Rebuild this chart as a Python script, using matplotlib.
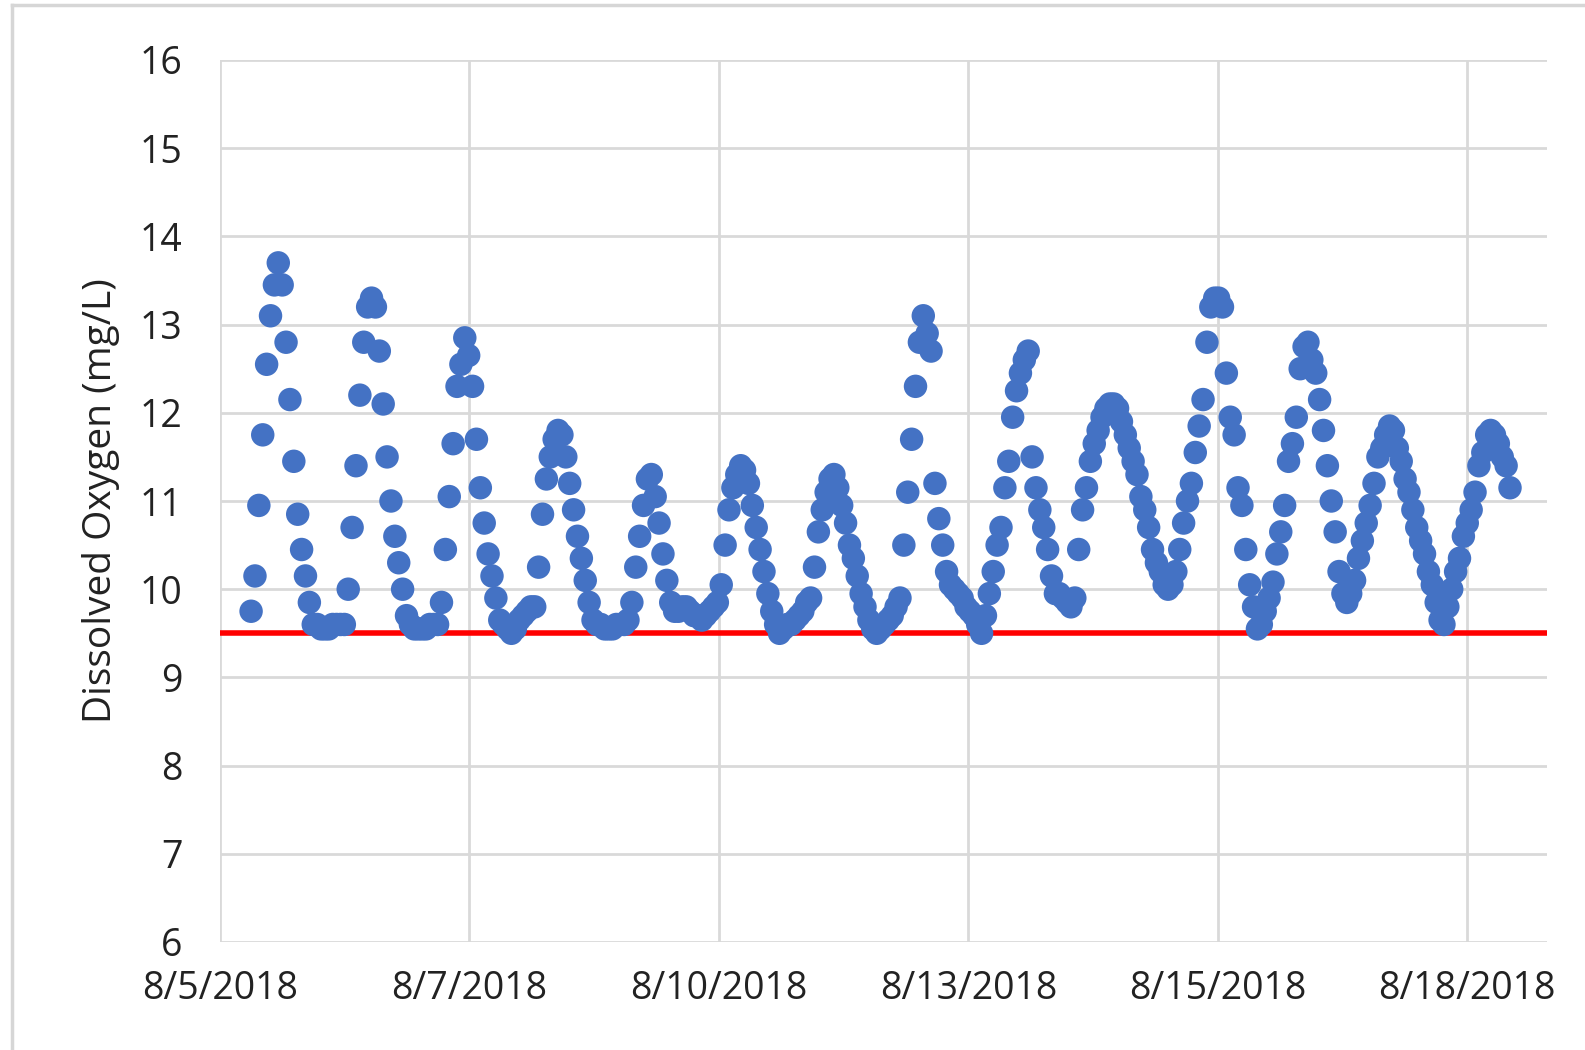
import numpy as np
import matplotlib
matplotlib.use('Agg')
import matplotlib.pyplot as plt
from matplotlib.lines import Line2D

plt.rcParams['font.family'] = ['Open Sans', 'DejaVu Sans']

# hourly dissolved oxygen readings (mg/L), one list per day
# first day starts at 08:00, last day stops at 20:00
aug05 = [9.75, 10.15, 10.95, 11.75, 12.55, 13.1, 13.45, 13.7, 13.45, 12.8, 12.15, 11.45,
         10.85, 10.45, 10.15, 9.85]
aug06 = [9.6, 9.6, 9.55, 9.55, 9.55, 9.6, 9.6, 9.6, 9.6, 10.0, 10.7, 11.4,
         12.2, 12.8, 13.2, 13.3, 13.2, 12.7, 12.1, 11.5, 11.0, 10.6, 10.3, 10.0]
aug07 = [9.7, 9.6, 9.55, 9.55, 9.55, 9.55, 9.6, 9.6, 9.6, 9.85, 10.45, 11.05,
         11.65, 12.3, 12.55, 12.85, 12.65, 12.3, 11.7, 11.15, 10.75, 10.4, 10.15, 9.9]
aug08 = [9.65, 9.6, 9.55, 9.5, 9.55, 9.65, 9.7, 9.75, 9.8, 9.8, 10.25, 10.85,
         11.25, 11.5, 11.7, 11.8, 11.75, 11.5, 11.2, 10.9, 10.6, 10.35, 10.1, 9.85]
aug09 = [9.65, 9.6, 9.6, 9.55, 9.55, 9.55, 9.6, 9.6, 9.6, 9.65, 9.85, 10.25,
         10.6, 10.95, 11.25, 11.3, 11.05, 10.75, 10.4, 10.1, 9.85, 9.75, 9.75, 9.8]
aug10 = [9.8, 9.75, 9.7, 9.7, 9.65, 9.7, 9.75, 9.8, 9.85, 10.05, 10.5, 10.9,
         11.15, 11.3, 11.4, 11.35, 11.2, 10.95, 10.7, 10.45, 10.2, 9.95, 9.75, 9.6]
aug11 = [9.5, 9.55, 9.6, 9.6, 9.65, 9.7, 9.75, 9.85, 9.9, 10.25, 10.65, 10.9,
         11.1, 11.25, 11.3, 11.15, 10.95, 10.75, 10.5, 10.35, 10.15, 9.95, 9.8, 9.65]
aug12 = [9.55, 9.5, 9.55, 9.6, 9.65, 9.7, 9.8, 9.9, 10.5, 11.1, 11.7, 12.3,
         12.8, 13.1, 12.9, 12.7, 11.2, 10.8, 10.5, 10.2, 10.05, 10.0, 9.95, 9.9]
aug13 = [9.8, 9.75, 9.7, 9.6, 9.5, 9.7, 9.95, 10.2, 10.5, 10.7, 11.15, 11.45,
         11.95, 12.25, 12.45, 12.6, 12.7, 11.5, 11.15, 10.9, 10.7, 10.45, 10.15, 9.95]
aug14 = [9.95, 9.9, 9.85, 9.8, 9.9, 10.45, 10.9, 11.15, 11.45, 11.65, 11.8, 11.95,
         12.05, 12.1, 12.1, 12.05, 11.9, 11.75, 11.6, 11.45, 11.3, 11.05, 10.9, 10.7]
aug15 = [10.45, 10.3, 10.2, 10.05, 10.0, 10.05, 10.2, 10.45, 10.75, 11.0, 11.2, 11.55,
         11.85, 12.15, 12.8, 13.2, 13.3, 13.3, 13.2, 12.45, 11.95, 11.75, 11.15, 10.95]
aug16 = [10.45, 10.05, 9.8, 9.55, 9.6, 9.75, 9.9, 10.08, 10.4, 10.65, 10.95, 11.45,
         11.65, 11.95, 12.5, 12.75, 12.8, 12.6, 12.45, 12.15, 11.8, 11.4, 11.0, 10.65]
aug17 = [10.2, 9.95, 9.85, 9.95, 10.1, 10.35, 10.55, 10.75, 10.95, 11.2, 11.5, 11.6,
         11.75, 11.85, 11.8, 11.6, 11.45, 11.25, 11.1, 10.9, 10.7, 10.55, 10.4, 10.2]
aug18 = [10.05, 9.85, 9.65, 9.6, 9.8, 10.0, 10.2, 10.35, 10.6, 10.75, 10.9, 11.1,
         11.4, 11.55, 11.75, 11.8, 11.75, 11.65, 11.5, 11.4, 11.15]

days = [aug05, aug06, aug07, aug08, aug09, aug10, aug11, aug12, aug13,
        aug14, aug15, aug16, aug17, aug18]
first_hour = 8
standard = 9.5

tick_pos = [0, 2.675, 5.35, 8.025, 10.7, 13.375]
tick_labels = ['8/5/2018', '8/7/2018', '8/10/2018', '8/13/2018', '8/15/2018', '8/18/2018']

# time in days since 8/5 00:00
t = []
do = []
for i, vals in enumerate(days):
    h0 = first_hour if i == 0 else 0
    for k, v in enumerate(vals):
        t.append(i + (h0 + k) / 24)
        do.append(v)

fig = plt.figure(figsize=(15.85, 10.5), dpi=100)
ax = fig.add_axes([220 / 1585, 1 - 942 / 1050, 1327 / 1585, 882 / 1050])

ax.axhline(standard, color='#ff0000', lw=4, zorder=2)
ax.scatter(t, do, s=285, color='#4472c4', edgecolors='none', zorder=3)

ax.set_xlim(0, 14.23)
ax.set_ylim(6, 16)
ax.set_yticks(range(6, 17))
ax.set_xticks(tick_pos)
ax.set_xticklabels(tick_labels)
ax.grid(color='#d9d9d9', lw=2)
ax.set_axisbelow(True)
for s in ax.spines.values():
    s.set_visible(False)
ax.tick_params(axis='both', length=0, labelsize=27, colors='#222222')
ax.tick_params(axis='y', pad=27)
ax.tick_params(axis='x', pad=20)
ax.set_ylabel('Dissolved Oxygen (mg/L)', fontsize=28, labelpad=14, color='#222222')

# light frame of the chart area
fig.add_artist(Line2D([12 / 1585, 12 / 1585], [0, 1 - 5 / 1050], transform=fig.transFigure,
                      color='#d6d6d6', lw=2.5))
fig.add_artist(Line2D([12 / 1585, 1], [1 - 5 / 1050, 1 - 5 / 1050], transform=fig.transFigure,
                      color='#d6d6d6', lw=2.5))

plt.savefig('out.png')
